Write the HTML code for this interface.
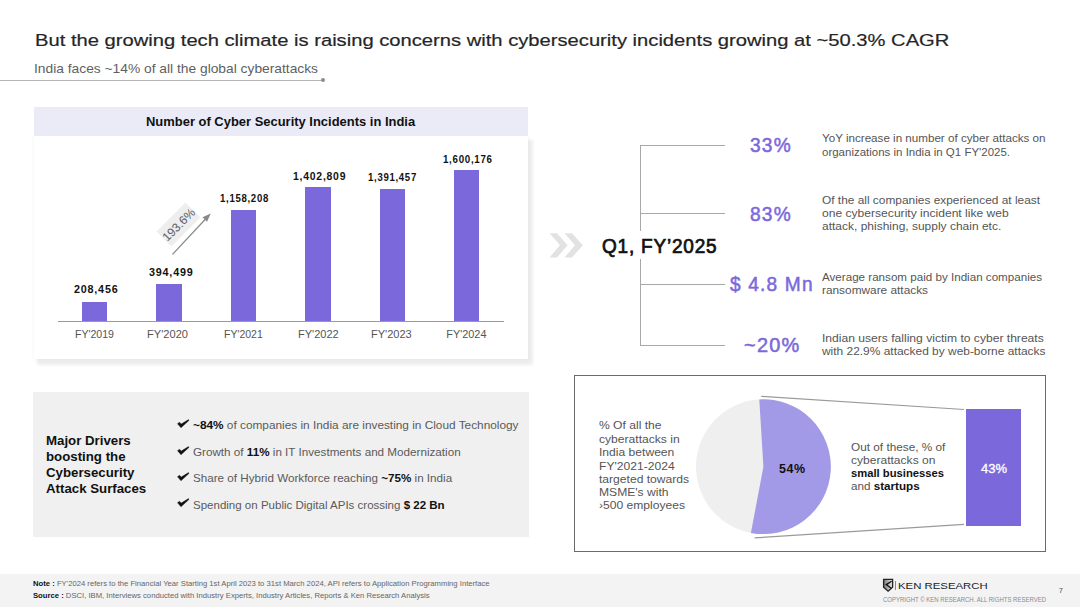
<!DOCTYPE html>
<html><head><meta charset="utf-8"><style>
html,body{margin:0;padding:0;}
body{width:1080px;height:607px;position:relative;overflow:hidden;background:#fff;font-family:"Liberation Sans",sans-serif;}
.a{position:absolute;box-sizing:border-box;}
.t{position:absolute;white-space:nowrap;transform-origin:0 0;}
b{font-weight:bold;}
</style></head><body>
<div class="t" style="left:35.00px;top:30px;font-size:17.2px;line-height:20px;color:#262626;transform:scaleX(1.1737);-webkit-text-stroke:0.2px #262626;"><span>But the growing tech climate is raising concerns with cybersecurity incidents growing at ~50.3% CAGR</span></div>
<div class="t" style="left:34.00px;top:61px;font-size:13px;line-height:15px;color:#5f5f5f;transform:scaleX(1.0607);"><span>India faces ~14% of all the global cyberattacks</span></div>
<div class="a" style="left:0;top:79.5px;width:323px;height:1.2px;background:#b5b5b5;"></div>
<div class="a" style="left:320.9px;top:78.1px;width:4.4px;height:4.4px;border-radius:50%;background:#8c8c8c;"></div>
<div class="a" style="left:33.5px;top:136px;width:494px;height:222.5px;background:#fff;box-shadow:0 0 3px 1px rgba(0,0,0,0.03),4px 5px 3px 1px #eeeeee;"></div>
<div class="a" style="left:33.5px;top:107px;width:494px;height:29px;background:#ebebf8;"></div>
<div class="t" style="left:146.25px;top:115px;font-size:12.6px;line-height:14px;color:#111;font-weight:bold;transform:scaleX(1.0283);"><b style="color:#111">Number of Cyber Security Incidents in India</b></div>
<div class="a" style="left:82.0px;top:301.5px;width:25.4px;height:19.7px;background:#7b69db;"></div>
<div class="a" style="left:156.4px;top:284.0px;width:25.4px;height:37.2px;background:#7b69db;"></div>
<div class="a" style="left:230.9px;top:210.3px;width:25.4px;height:110.9px;background:#7b69db;"></div>
<div class="a" style="left:305.3px;top:187.2px;width:25.4px;height:134.0px;background:#7b69db;"></div>
<div class="a" style="left:379.7px;top:189.0px;width:25.4px;height:132.2px;background:#7b69db;"></div>
<div class="a" style="left:454.1px;top:169.5px;width:25.4px;height:151.7px;background:#7b69db;"></div>
<div class="a" style="left:58px;top:320.6px;width:446px;height:1.3px;background:#9a9a9a;"></div>
<div class="t" style="left:74.20px;top:283px;font-size:10.9px;line-height:12px;color:#111;font-weight:bold;transform:scaleX(0.9887);letter-spacing:0.8px;"><b style="color:#111">208,456</b></div>
<div class="t" style="left:148.75px;top:266px;font-size:10.9px;line-height:12px;color:#111;font-weight:bold;transform:scaleX(0.9898);letter-spacing:0.8px;"><b style="color:#111">394,499</b></div>
<div class="t" style="left:220.10px;top:192px;font-size:10.9px;line-height:12px;color:#111;font-weight:bold;transform:scaleX(0.8799);letter-spacing:0.8px;"><b style="color:#111">1,158,208</b></div>
<div class="t" style="left:293.00px;top:170px;font-size:10.9px;line-height:12px;color:#111;font-weight:bold;transform:scaleX(0.9564);letter-spacing:0.8px;"><b style="color:#111">1,402,809</b></div>
<div class="t" style="left:368.00px;top:171px;font-size:10.9px;line-height:12px;color:#111;font-weight:bold;transform:scaleX(0.8790);letter-spacing:0.8px;"><b style="color:#111">1,391,457</b></div>
<div class="t" style="left:443.00px;top:153px;font-size:10.9px;line-height:12px;color:#111;font-weight:bold;transform:scaleX(0.8927);letter-spacing:0.8px;"><b style="color:#111">1,600,176</b></div>
<div class="t" style="left:75.00px;top:328px;font-size:10.9px;line-height:12px;color:#555;transform:scaleX(0.9688);"><span>FY&#x27;2019</span></div>
<div class="t" style="left:147.30px;top:328px;font-size:10.9px;line-height:12px;color:#555;transform:scaleX(1.0184);"><span>FY&#x27;2020</span></div>
<div class="t" style="left:223.75px;top:328px;font-size:10.9px;line-height:12px;color:#555;transform:scaleX(0.9626);"><span>FY&#x27;2021</span></div>
<div class="t" style="left:297.50px;top:328px;font-size:10.9px;line-height:12px;color:#555;transform:scaleX(1.0122);"><span>FY&#x27;2022</span></div>
<div class="t" style="left:371.25px;top:328px;font-size:10.9px;line-height:12px;color:#555;transform:scaleX(1.0122);"><span>FY&#x27;2023</span></div>
<div class="t" style="left:446.25px;top:328px;font-size:10.9px;line-height:12px;color:#555;"><span>FY&#x27;2024</span></div>
<div class="a" style="left:157.7px;top:213.8px;width:41px;height:21.2px;background:#eeeeee;transform:rotate(-45deg);"></div>
<svg class="a" style="left:0;top:0" width="1080" height="607"><line x1="172.5" y1="254.4" x2="207" y2="217.5" stroke="#8a8a8a" stroke-width="1.3"/><polygon points="210.8,213.6 202.5,217.2 207,221.8" fill="#8a8a8a"/></svg>
<div class="a" style="left:157.7px;top:213.8px;width:41px;height:21.2px;transform:rotate(-45deg);display:flex;align-items:center;justify-content:center;font-size:12px;color:#606060;">193.6%</div>
<div class="a" style="left:640px;top:145px;width:1.3px;height:86px;background:#a8a8a8;"></div>
<div class="a" style="left:640px;top:259px;width:1.3px;height:87px;background:#a8a8a8;"></div>
<div class="a" style="left:640px;top:145.0px;width:85px;height:1.3px;background:#a8a8a8;"></div>
<div class="a" style="left:640px;top:213.0px;width:85px;height:1.3px;background:#a8a8a8;"></div>
<div class="a" style="left:640px;top:283.8px;width:85px;height:1.3px;background:#a8a8a8;"></div>
<div class="a" style="left:640px;top:344.6px;width:85px;height:1.3px;background:#a8a8a8;"></div>
<svg class="a" style="left:0;top:0" width="1080" height="607"><polygon points="549.5,233.2 557,233.2 567.5,245.3 557,257.5 549.5,257.5 560,245.3" fill="#e2e2e2"/><polygon points="564.5,233.2 572,233.2 582.8,245.3 572,257.5 564.5,257.5 575,245.3" fill="#e2e2e2"/></svg>
<div class="t" style="left:601.80px;top:236px;font-size:19.3px;line-height:21px;color:#111;transform:scaleX(0.9858);-webkit-text-stroke:0.7px #111;letter-spacing:0.8px;"><span>Q1, FY’2025</span></div>
<div class="t" style="left:750.40px;top:135px;font-size:19.3px;line-height:21px;color:#7b69db;transform:scaleX(0.9920);-webkit-text-stroke:0.5px #7b69db;letter-spacing:1.2px;"><span>33%</span></div>
<div class="t" style="left:750.40px;top:204px;font-size:19.3px;line-height:21px;color:#7b69db;transform:scaleX(0.9920);-webkit-text-stroke:0.5px #7b69db;letter-spacing:1.2px;"><span>83%</span></div>
<div class="t" style="left:729.60px;top:274px;font-size:19.3px;line-height:21px;color:#7b69db;transform:scaleX(0.9892);-webkit-text-stroke:0.5px #7b69db;letter-spacing:1.2px;"><span>$ 4.8 Mn</span></div>
<div class="t" style="left:744.20px;top:335px;font-size:19.3px;line-height:21px;color:#7b69db;transform:scaleX(1.0337);-webkit-text-stroke:0.5px #7b69db;letter-spacing:1.2px;"><span>~20%</span></div>
<div class="t" style="left:822.00px;top:132px;font-size:11.5px;line-height:12px;color:#555;transform:scaleX(1.0105);"><span>YoY increase in number of cyber attacks on</span></div>
<div class="t" style="left:822.00px;top:146px;font-size:11.5px;line-height:12px;color:#555;transform:scaleX(0.9988);"><span>organizations in India in Q1 FY&#x27;2025.</span></div>
<div class="t" style="left:822.00px;top:194px;font-size:11.5px;line-height:12px;color:#555;transform:scaleX(1.0334);"><span>Of the all companies experienced at least</span></div>
<div class="t" style="left:822.00px;top:207px;font-size:11.5px;line-height:12px;color:#555;transform:scaleX(1.0509);"><span>one cybersecurity incident like web</span></div>
<div class="t" style="left:822.00px;top:220px;font-size:11.5px;line-height:12px;color:#555;transform:scaleX(1.0424);"><span>attack, phishing, supply chain etc.</span></div>
<div class="t" style="left:822.00px;top:271px;font-size:11.5px;line-height:12px;color:#555;transform:scaleX(1.0102);"><span>Average ransom paid by Indian companies</span></div>
<div class="t" style="left:822.00px;top:284px;font-size:11.5px;line-height:12px;color:#555;transform:scaleX(1.0301);"><span>ransomware attacks</span></div>
<div class="t" style="left:822.00px;top:332px;font-size:11.5px;line-height:12px;color:#555;transform:scaleX(1.0513);"><span>Indian users falling victim to cyber threats</span></div>
<div class="t" style="left:822.00px;top:345px;font-size:11.5px;line-height:12px;color:#555;transform:scaleX(1.0375);"><span>with 22.9% attacked by web-borne attacks</span></div>
<div class="a" style="left:33.4px;top:392.4px;width:496px;height:144.3px;background:#f0f0f0;"></div>
<div class="t" style="left:46.10px;top:433px;font-size:13.2px;line-height:15px;color:#111;font-weight:bold;transform:scaleX(1.0052);"><b style="color:#111">Major Drivers</b></div>
<div class="t" style="left:46.10px;top:449px;font-size:13.2px;line-height:15px;color:#111;font-weight:bold;transform:scaleX(1.0052);"><b style="color:#111">boosting the</b></div>
<div class="t" style="left:46.10px;top:465px;font-size:13.2px;line-height:15px;color:#111;font-weight:bold;transform:scaleX(1.0052);"><b style="color:#111">Cybersecurity</b></div>
<div class="t" style="left:46.10px;top:481px;font-size:13.2px;line-height:15px;color:#111;font-weight:bold;transform:scaleX(1.0052);"><b style="color:#111">Attack Surfaces</b></div>
<div class="t" style="left:193.40px;top:419px;font-size:11.5px;line-height:12px;color:#5a5a5a;transform:scaleX(1.0282);"><b style="color:#111">~84%</b><span> of companies in India are investing in Cloud Technology</span></div>
<svg class="a" style="left:176px;top:418.0px" width="14" height="12"><path d="M1.5,5.7 L3.5,4.2 L5.2,6.1 L12.5,1.6 L12.9,2.5 L5.0,9.8 Z" fill="#111" stroke="#111" stroke-width="0.4" stroke-linejoin="round"/></svg>
<div class="t" style="left:193.40px;top:446px;font-size:11.5px;line-height:12px;color:#5a5a5a;transform:scaleX(1.0145);"><span>Growth of </span><b style="color:#111">11%</b><span> in IT Investments and Modernization</span></div>
<svg class="a" style="left:176px;top:444.8px" width="14" height="12"><path d="M1.5,5.7 L3.5,4.2 L5.2,6.1 L12.5,1.6 L12.9,2.5 L5.0,9.8 Z" fill="#111" stroke="#111" stroke-width="0.4" stroke-linejoin="round"/></svg>
<div class="t" style="left:193.40px;top:472px;font-size:11.5px;line-height:12px;color:#5a5a5a;transform:scaleX(1.0129);"><span>Share of Hybrid Workforce reaching </span><b style="color:#111">~75%</b><span> in India</span></div>
<svg class="a" style="left:176px;top:471.1px" width="14" height="12"><path d="M1.5,5.7 L3.5,4.2 L5.2,6.1 L12.5,1.6 L12.9,2.5 L5.0,9.8 Z" fill="#111" stroke="#111" stroke-width="0.4" stroke-linejoin="round"/></svg>
<div class="t" style="left:193.40px;top:499px;font-size:11.5px;line-height:12px;color:#5a5a5a;transform:scaleX(1.0015);"><span>Spending on Public Digital APIs crossing </span><b style="color:#111">$ 22 Bn</b></div>
<svg class="a" style="left:176px;top:497.4px" width="14" height="12"><path d="M1.5,5.7 L3.5,4.2 L5.2,6.1 L12.5,1.6 L12.9,2.5 L5.0,9.8 Z" fill="#111" stroke="#111" stroke-width="0.4" stroke-linejoin="round"/></svg>
<div class="a" style="left:574px;top:375px;width:471.5px;height:176.5px;border:1.3px solid #6a6a6a;background:#fff;"></div>
<div class="t" style="left:599.00px;top:419px;font-size:11.2px;line-height:12px;color:#555;transform:scaleX(1.0812);"><span>% Of all the</span></div>
<div class="t" style="left:599.00px;top:433px;font-size:11.2px;line-height:12px;color:#555;transform:scaleX(1.0812);"><span>cyberattacks in</span></div>
<div class="t" style="left:599.00px;top:446px;font-size:11.2px;line-height:12px;color:#555;transform:scaleX(1.0812);"><span>India between</span></div>
<div class="t" style="left:599.00px;top:460px;font-size:11.2px;line-height:12px;color:#555;transform:scaleX(1.0812);"><span>FY&#x27;2021-2024</span></div>
<div class="t" style="left:599.00px;top:473px;font-size:11.2px;line-height:12px;color:#555;transform:scaleX(1.0812);"><span>targeted towards</span></div>
<div class="t" style="left:599.00px;top:486px;font-size:11.2px;line-height:12px;color:#555;transform:scaleX(1.0812);"><span>MSME&#x27;s with</span></div>
<div class="t" style="left:599.00px;top:499px;font-size:11.2px;line-height:12px;color:#555;transform:scaleX(1.0812);"><span>›500 employees</span></div>
<svg class="a" style="left:0;top:0" width="1080" height="607"><circle cx="763.4" cy="466.7" r="67.4" fill="#efefef"/><path d="M763.4,466.7 L759.29,399.43 A67.4,67.4 0 1 1 750.89,532.93 Z" fill="#a29ae6"/><line x1="761.2" y1="396.3" x2="964" y2="409.5" stroke="#9a9a9a" stroke-width="1.2"/><line x1="754.6" y1="537.9" x2="964" y2="524.3" stroke="#9a9a9a" stroke-width="1.2"/></svg>
<div class="t" style="left:779.00px;top:462px;font-size:12px;line-height:14px;color:#111;font-weight:bold;transform:scaleX(1.0389);letter-spacing:0.6px;"><b style="color:#111">54%</b></div>
<div class="a" style="left:966.4px;top:408.5px;width:54.2px;height:117px;background:#7b69db;"></div>
<div class="t" style="left:980.50px;top:462px;font-size:12px;line-height:14px;color:#fff;transform:scaleX(1.0825);-webkit-text-stroke:0.3px #fff;"><span>43%</span></div>
<div class="t" style="left:850.70px;top:441px;font-size:11.2px;line-height:12px;color:#555;transform:scaleX(1.0541);"><span>Out of these, % of</span></div>
<div class="t" style="left:850.70px;top:454px;font-size:11.2px;line-height:12px;color:#555;transform:scaleX(1.0773);"><span>cyberattacks on</span></div>
<div class="t" style="left:850.70px;top:467px;font-size:11.2px;line-height:12px;color:#555;transform:scaleX(1.0047);"><b style="color:#111">small businesses</b></div>
<div class="t" style="left:850.70px;top:480px;font-size:11.2px;line-height:12px;color:#555;transform:scaleX(1.0426);"><span>and </span><b style="color:#111">startups</b></div>
<div class="a" style="left:0;top:574px;width:1080px;height:33px;background:#f3f3f3;"></div>
<div class="t" style="left:33.20px;top:579px;font-size:7.3px;line-height:9px;color:#666;transform:scaleX(1.0517);"><b style="color:#111">Note : </b><span>FY&#x27;2024 refers to the Financial Year Starting 1st April 2023 to 31st March 2024, API refers to Application Programming Interface</span></div>
<div class="t" style="left:33.20px;top:591px;font-size:7.3px;line-height:9px;color:#666;transform:scaleX(1.0516);"><b style="color:#111">Source : </b><span>DSCI, IBM, Interviews conducted with Industry Experts, Industry Articles, Reports &amp; Ken Research Analysis</span></div>
<div class="t" style="left:1058.70px;top:586px;font-size:7.5px;line-height:9px;color:#555;"><span>7</span></div>
<div class="t" style="left:898.30px;top:580px;font-size:9.6px;line-height:11px;color:#222;transform:scaleX(1.1842);"><span>KEN RESEARCH</span></div>
<svg class="a" style="left:882px;top:578px" width="13" height="15"><defs><linearGradient id="lg" x1="0" x2="1"><stop offset="0" stop-color="#777"/><stop offset="1" stop-color="#eee"/></linearGradient></defs><path d="M1.6,1.4 H10.6 V9.2 L6.1,13.2 L1.6,9.2 Z" fill="url(#lg)" stroke="#222" stroke-width="1.3"/><path d="M9.6,3.2 L4.2,6.6 L9.2,10.2" stroke="#111" stroke-width="1.3" fill="none"/></svg>
<div class="a" style="left:895.3px;top:580.5px;width:1px;height:9.5px;background:#888;"></div>
<div class="t" style="left:883.00px;top:596px;font-size:6.5px;line-height:7px;color:#8a8a8a;transform:scaleX(0.9230);"><span>COPYRIGHT © KEN RESEARCH. ALL RIGHTS RESERVED</span></div>
</body></html>
